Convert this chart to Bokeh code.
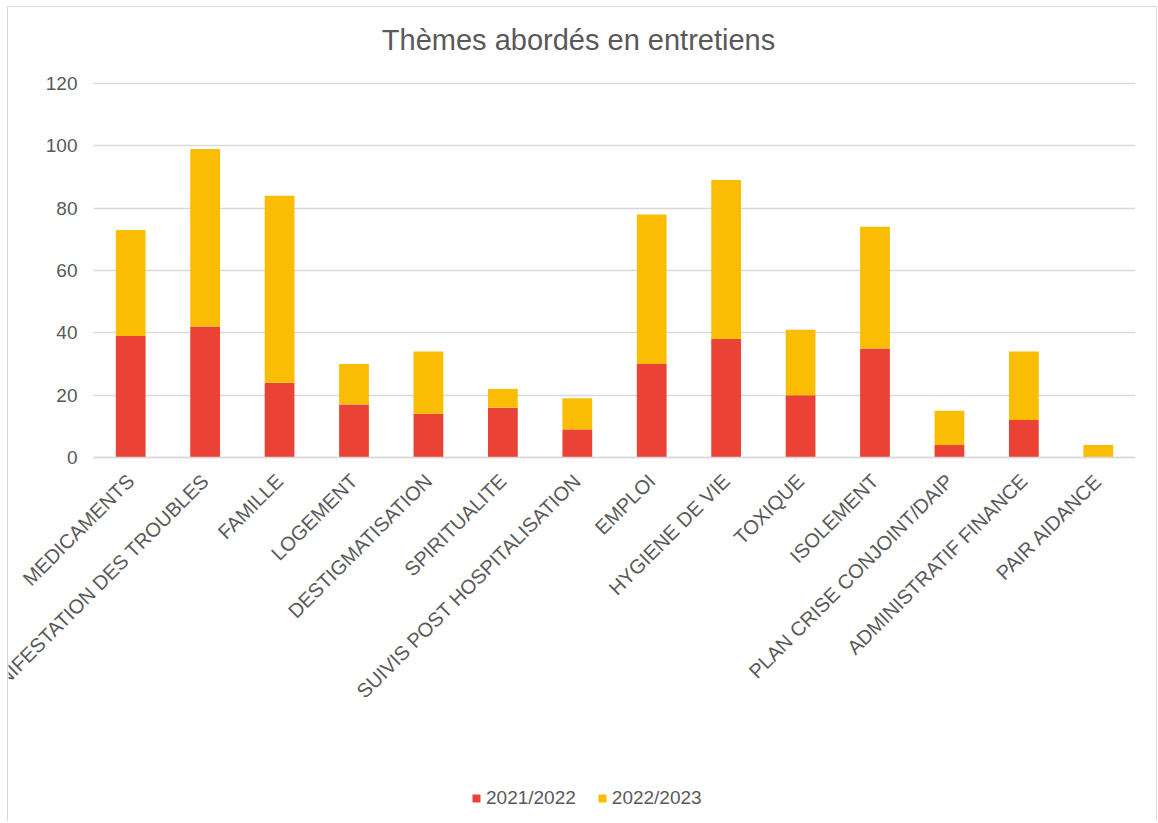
from math import pi
from bokeh.plotting import figure
from bokeh.models import (ColumnDataSource, Range1d, Legend, FixedTicker, Label, Grid)
from bokeh.embed import file_html
from bokeh.resources import INLINE

categories = ["MEDICAMENTS", "MANIFESTATION DES TROUBLES", "FAMILLE", "LOGEMENT",
              "DESTIGMATISATION", "SPIRITUALITE", "SUIVIS POST HOSPITALISATION",
              "EMPLOI", "HYGIENE DE VIE", "TOXIQUE", "ISOLEMENT",
              "PLAN CRISE CONJOINT/DAIP", "ADMINISTRATIF FINANCE", "PAIR AIDANCE"]
y2021_2022 = [39, 42, 24, 17, 14, 16, 9, 30, 38, 20, 35, 4, 12, 0]
y2022_2023 = [34, 57, 60, 13, 20, 6, 10, 48, 51, 21, 39, 11, 22, 4]
y_ticks = [0, 20, 40, 60, 80, 100, 120]
series_names = ["2021/2022", "2022/2023"]
colors = ["#EA4335", "#FBBC04"]
title_text = "Thèmes abordés en entretiens"

FONT = "Liberation Sans"
TXT = "#595959"
GRID = "#D9D9D9"

n = len(categories)
positions = [i + 0.5 for i in range(n)]   # category slot centres

# layout (pixels inside the canvas)
FRAME_W = 1127
FRAME_H = 814
PX_CAT_LEFT = 85     # x pixel where the first category slot starts
PX_TOP_120 = 76      # y pixel of value 120
PX_ZERO = 450        # y pixel of value 0
ppx = (FRAME_W - PX_CAT_LEFT) / n
x_start = -PX_CAT_LEFT / ppx
ppu = (PX_ZERO - PX_TOP_120) / 120.0
y_end = 120 + PX_TOP_120 / ppu
y_start = -(FRAME_H - PX_ZERO) / ppu

source = ColumnDataSource(dict(x=positions, cat=categories, s1=y2021_2022, s2=y2022_2023))

p = figure(x_range=Range1d(x_start, n), y_range=Range1d(y_start, y_end),
           frame_width=FRAME_W, frame_height=FRAME_H, output_backend="svg",
           toolbar_location=None,
           min_border_left=0, min_border_right=21, min_border_top=0, min_border_bottom=0)

renderers = p.vbar_stack(["s1", "s2"], x="x", width=0.4, color=colors, line_color=None,
                         source=source)

p.yaxis.fixed_location = 0
p.yaxis.ticker = FixedTicker(ticks=y_ticks)
p.yaxis.axis_line_color = None
p.yaxis.major_tick_line_color = None
p.yaxis.minor_tick_line_color = None
p.yaxis.major_label_text_font = FONT
p.yaxis.major_label_text_font_size = "19px"
p.yaxis.major_label_text_color = TXT
p.yaxis.major_label_standoff = 10

p.xaxis.fixed_location = 0
p.xaxis.bounds = (0, n)
p.xaxis.ticker = FixedTicker(ticks=positions)
p.xaxis.major_label_overrides = {pos: name for pos, name in zip(positions, categories)}
p.xaxis.axis_line_color = GRID
p.xaxis.axis_line_width = 1.5
p.xaxis.major_tick_line_color = None
p.xaxis.minor_tick_line_color = None
p.xaxis.major_label_orientation = pi / 4
p.xaxis.major_label_text_font = FONT
p.xaxis.major_label_text_font_size = "20px"
p.xaxis.major_label_text_color = TXT
p.xaxis.major_label_standoff = 14

p.xgrid.grid_line_color = None
p.ygrid.grid_line_width = 1.5
if "cross_bounds" in Grid.properties():
    p.ygrid.grid_line_color = GRID
    p.ygrid.cross_bounds = (0, n)
else:
    p.ygrid.grid_line_color = None
    p.segment(x0=[0] * len(y_ticks), x1=[n] * len(y_ticks), y0=y_ticks, y1=y_ticks,
              line_color=GRID, line_width=1.5, level="underlay")

p.outline_line_color = None
p.styles = {"border-top": "1px solid #D9D9D9", "border-left": "1px solid #D9D9D9",
            "border-right": "1px solid #D9D9D9", "margin-left": "7px", "margin-top": "6px"}

title = Label(x=(578 - 93) / ppx, y=120 + (PX_TOP_120 - 32) / ppu, text=title_text,
              text_align="center", text_baseline="middle", text_font=FONT,
              text_font_size="29px", text_color=TXT)
p.add_layout(title)

legend = Legend(items=[(series_names[0], [renderers[0]]), (series_names[1], [renderers[1]])],
                orientation="horizontal", location=(378 + PX_CAT_LEFT, 12))
legend.label_text_font = FONT
legend.label_text_font_size = "19px"
legend.label_text_color = TXT
legend.glyph_width = 10
legend.glyph_height = 10
legend.label_standoff = 5
legend.spacing = 21
legend.margin = 0
legend.padding = 0
legend.border_line_color = None
legend.background_fill_alpha = 0
p.add_layout(legend, "center")

open("out.html", "w").write(file_html(p, INLINE))
